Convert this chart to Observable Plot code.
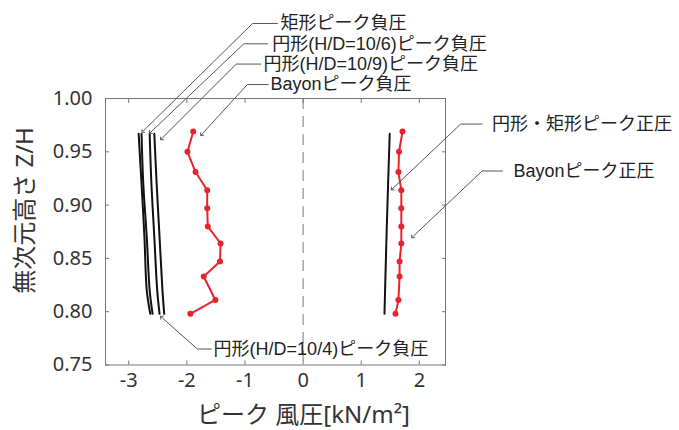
<!DOCTYPE html>
<html><head><meta charset="utf-8">
<script src="https://cdn.jsdelivr.net/npm/d3@7"></script>
<script src="https://cdn.jsdelivr.net/npm/@observablehq/plot@0.6"></script>
<style>body{margin:0;background:#fff}</style>
</head><body><div id="chart"></div>
<script>
// ---- data ----
const bayonHeights = [0.969, 0.950, 0.931, 0.914, 0.897, 0.880, 0.864, 0.847, 0.833, 0.811, 0.798];
const bayonNeg = [-1.89, -1.99, -1.85, -1.65, -1.65, -1.64, -1.42, -1.43, -1.71, -1.51, -1.94];
const bayonPos = [1.71, 1.65, 1.64, 1.69, 1.69, 1.69, 1.69, 1.66, 1.66, 1.64, 1.59];

const lineHeights = [0.967, 0.92, 0.87, 0.82, 0.798];
const rectNeg = [-2.83, -2.78, -2.73, -2.69, -2.63];
const circ6Neg = [-2.78, -2.75, -2.69, -2.64, -2.59];
const circ9Neg = [-2.64, -2.61, -2.56, -2.51, -2.47];
const circ4Neg = [-2.56, -2.52, -2.47, -2.42, -2.39];
const posHeights = [0.967, 0.88, 0.798];
const circRectPos = [1.49, 1.44, 1.40];

const xTicks = [-3, -2, -1, 0, 1, 2];
const yTicks = [0.75, 0.80, 0.85, 0.90, 0.95, 1.00];

const xTitle = "ピーク 風圧[kN/m²]";
const yTitle = "無次元高さ Z/H";
const yTitleAt = 0.895;

// annotations: label text, label start, bend of leader, label height, arrow tip
const annLabels = ["矩形ピーク負圧", "円形(H/D=10/6)ピーク負圧", "円形(H/D=10/9)ピーク負圧", "Bayonピーク負圧",
  "円形(H/D=10/4)ピーク負圧", "円形・矩形ピーク正圧", "Bayonピーク正圧"];
const annTextX = [-0.39, -0.53, -0.68, -0.56, -1.54, 3.25, 3.62];
const annLeadX = [-0.44, -0.61, -0.73, -0.60, -1.58, 3.08, 3.43];
const annBendX = [-0.87, -1.02, -1.15, -0.96, -1.82, 2.71, 3.08];
const annY = [1.0704, 1.0513, 1.0323, 1.0131, 0.765, 0.976, 0.932];
const annTipX = [-2.76, -2.63, -2.44, -1.75, -2.44, 1.53, 1.88];
const annTipY = [0.969, 0.968, 0.962, 0.966, 0.795, 0.915, 0.870];

// ---- tables ----
const series = (name, xs, ys) => xs.map((v, i) => ({name, x: v, y: ys[i]}));
const blackLines = [
  ...series("rect", rectNeg, lineHeights),
  ...series("c6", circ6Neg, lineHeights),
  ...series("c9", circ9Neg, lineHeights),
  ...series("c4", circ4Neg, lineHeights),
  ...series("pos", circRectPos, posHeights)
];
const redNeg = series("bn", bayonNeg, bayonHeights);
const redPos = series("bp", bayonPos, bayonHeights);
const leaders = annLabels.flatMap((t, i) => [
  {k: i, x: annLeadX[i], y: annY[i]},
  {k: i, x: annBendX[i], y: annY[i]},
  {k: i, x: annTipX[i], y: annTipY[i]}
]);
const labels = annLabels.map((t, i) => ({t, x: annTextX[i], y: annY[i]}));

const red = "#e8232b";
const chart = Plot.plot({
  width: 679, height: 430,
  marginLeft: 105, marginRight: 234, marginTop: 98, marginBottom: 65.5,
  style: {fontFamily: "'Noto Sans', 'Noto Sans CJK JP', sans-serif", fontSize: "20px", color: "#333", background: "#fff"},
  x: {domain: [-3.4, 2.45]},
  y: {domain: [0.75, 1.0]},
  marks: [
    Plot.ruleX([0], {stroke: "#777", strokeDasharray: "11,7", strokeWidth: 1}),
    Plot.frame({stroke: "#777"}),
    Plot.axisX(xTicks, {anchor: "bottom", tickSize: -4, tickPadding: 12, tickFormat: d => String(d), label: null, stroke: "#777", fill: "#333", fontSize: 20}),
    Plot.axisX(xTicks, {anchor: "top", tickSize: -4, tickFormat: () => "", label: null, stroke: "#777"}),
    Plot.axisY(yTicks, {anchor: "left", tickSize: -4, tickPadding: 17, tickFormat: d => d.toFixed(2), label: null, stroke: "#777", fill: "#333", fontSize: 20}),
    Plot.axisY(yTicks, {anchor: "right", tickSize: -4, tickFormat: () => "", label: null, stroke: "#777"}),
    Plot.line(blackLines, {x: "x", y: "y", z: "name", stroke: "#111", strokeWidth: 2, curve: "catmull-rom"}),
    Plot.line(redNeg, {x: "x", y: "y", stroke: red, strokeWidth: 2}),
    Plot.dot(redNeg, {x: "x", y: "y", fill: red, r: 3}),
    Plot.line(redPos, {x: "x", y: "y", stroke: red, strokeWidth: 2}),
    Plot.dot(redPos, {x: "x", y: "y", fill: red, r: 3}),
    Plot.line(leaders, {x: "x", y: "y", z: "k", stroke: "#555", strokeWidth: 1, markerEnd: "arrow"}),
    Plot.text(labels, {x: "x", y: "y", text: "t", textAnchor: "start", lineAnchor: "middle", fontSize: 18,
      fontFamily: "'Liberation Sans', 'Noto Sans CJK JP', sans-serif", fill: "#222"}),
    Plot.text([xTitle], {frameAnchor: "bottom", dx: 28, dy: 50, lineAnchor: "middle", fontSize: 24, fill: "#333"}),
    Plot.text([{t: yTitle, y: yTitleAt}], {y: "y", text: "t", frameAnchor: "left", textAnchor: "middle", dx: -80, rotate: -90, lineAnchor: "middle", fontSize: 24, fill: "#333"})
  ]
});
document.getElementById("chart").appendChild(chart);
</script>
</body></html>
